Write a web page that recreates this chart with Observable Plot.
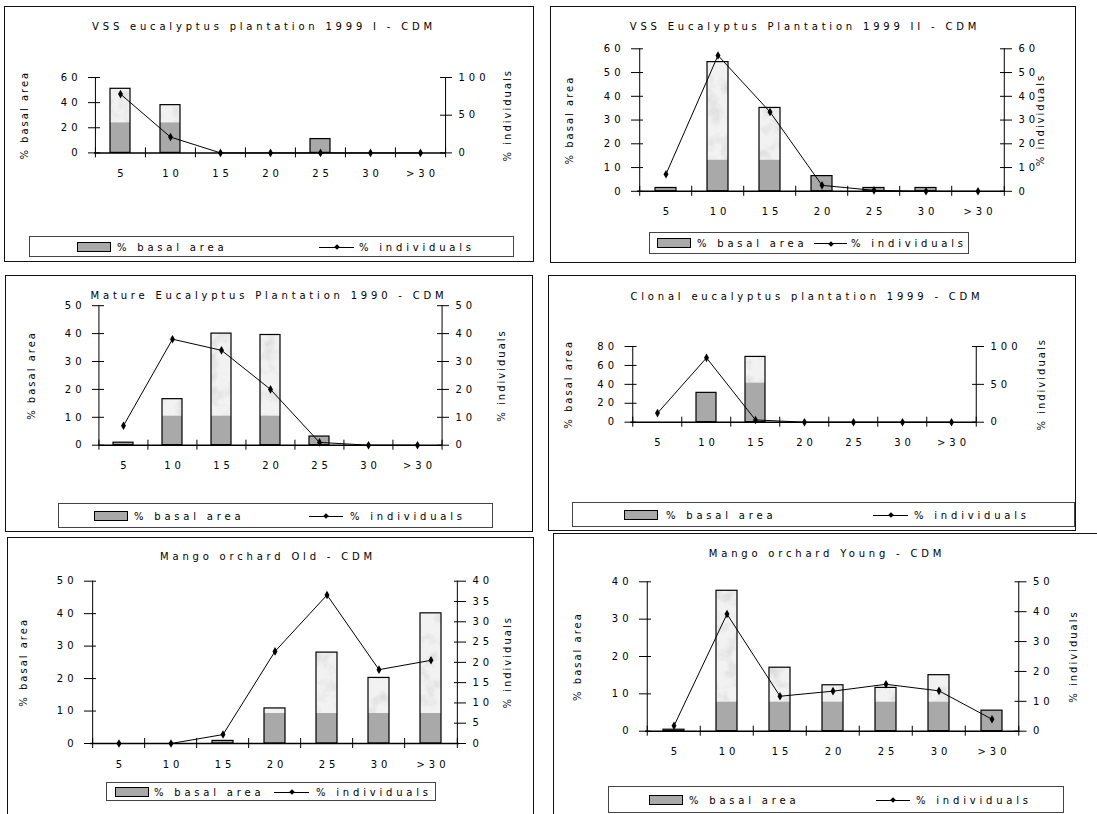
<!DOCTYPE html>
<html><head><meta charset="utf-8">
<script src="https://cdn.jsdelivr.net/npm/d3@7"></script>
<script src="https://cdn.jsdelivr.net/npm/@observablehq/plot@0.6"></script>
<style>
body{margin:0;background:#fff;}
#page{position:relative;width:1097px;height:814px;overflow:hidden;font-family:"DejaVu Sans",sans-serif;color:#000;background:#fff;}
.box{position:absolute;border:1.5px solid #111;box-sizing:border-box;}
.plot{position:absolute;}
.title{position:absolute;font-size:10px;letter-spacing:3.8px;white-space:pre;transform:translate(-50%,-50%);}
.legend{position:absolute;border:1px solid #444;box-sizing:border-box;background:#fff;}
.lg-sw{position:absolute;background:#a9a9a9;border:1.2px solid #000;box-sizing:border-box;height:10px;transform:translateY(-50%);}
.lg-tx{position:absolute;font-size:10px;letter-spacing:3.8px;white-space:pre;transform:translateY(-50%);}
.lg-ln{position:absolute;height:0;border-top:1px solid #000;}
.lg-dm{position:absolute;width:4px;height:4px;background:#000;transform:translate(-50%,-50%) rotate(45deg);}
</style></head>
<body><div id="page"></div>
<script>
const cats = ["5", "10", "15", "20", "25", "30", ">30"];
const titles = [
  "VSS eucalyptus plantation 1999 I - CDM",
  "VSS Eucalyptus Plantation 1999 II - CDM",
  "Mature Eucalyptus Plantation 1990 - CDM",
  "Clonal eucalyptus plantation 1999 - CDM",
  "Mango orchard Old - CDM",
  "Mango orchard Young - CDM"
];
const seriesBasal = "% basal area";
const seriesIndiv = "% individuals";

const basalVss1 = [51, 38, 0, 0, 11, 0, 0];
const indivVss1 = [78, 21, 0, 0, 0, 0, 0];
const basalVss2 = [1.4, 54.4, 35.1, 6.4, 1.4, 1.4, 0];
const indivVss2 = [7.2, 57.2, 33.4, 2.5, 0.4, 0, 0];
const basalMature = [0.9, 16.5, 40, 39.5, 3.1, 0, 0];
const indivMature = [7, 38, 34, 20, 1, 0, 0];
const basalClonal = [0, 31, 69, 0, 0, 0, 0];
const indivClonal = [12, 85, 3, 0, 0, 0, 0];
const basalMangoOld = [0, 0, 0.8, 10.8, 28, 20.2, 40.1];
const indivMangoOld = [0, 0, 2.2, 22.7, 36.6, 18.2, 20.5];
const basalMangoYoung = [0.4, 37.6, 17, 12.3, 11.6, 15, 5.5];
const indivMangoYoung = [1.8, 39.2, 11.7, 13.4, 15.7, 13.5, 4.0];

const leftTicksVss1 = [0, 20, 40, 60];
const rightTicksVss1 = [0, 50, 100];
const leftTicksVss2 = [0, 10, 20, 30, 40, 50, 60];
const rightTicksVss2 = [0, 10, 20, 30, 40, 50, 60];
const leftTicksMature = [0, 10, 20, 30, 40, 50];
const rightTicksMature = [0, 10, 20, 30, 40, 50];
const leftTicksClonal = [0, 20, 40, 60, 80];
const rightTicksClonal = [0, 50, 100];
const leftTicksMangoOld = [0, 10, 20, 30, 40, 50];
const rightTicksMangoOld = [0, 5, 10, 15, 20, 25, 30, 35, 40];
const leftTicksMangoYoung = [0, 10, 20, 30, 40];
const rightTicksMangoYoung = [0, 10, 20, 30, 40, 50];

// layout (page pixel coordinates)
const panels = [
  {title: titles[0], ba: basalVss1, ind: indivVss1, lt: leftTicksVss1, rt: rightTicksVss1,
   box: [4, 6, 534, 262], area: [94, 445, 77, 152.4], gray: 30, tc: [264, 26],
   lg: [29, 236, 514, 257], sw: [76, 110], t1: 116, ln: [318, 353], t2: 358, yl: [24, 507]},
  {title: titles[1], ba: basalVss2, ind: indivVss2, lt: leftTicksVss2, rt: rightTicksVss2,
   box: [550, 6, 1076, 263], area: [637, 1005, 48.3, 190.8], gray: 31, tc: [805, 26],
   lg: [649, 232, 969, 254], sw: [656, 690], t1: 696, ln: [813, 846], t2: 850, yl: [569, 1040]},
  {title: titles[2], ba: basalMature, ind: indivMature, lt: leftTicksMature, rt: rightTicksMature,
   box: [5, 275, 533, 532], area: [98, 442, 305.2, 444.7], gray: 29, tc: [269, 295],
   lg: [58, 503, 493, 528], sw: [93, 127], t1: 133, ln: [308, 342], t2: 349, yl: [31, 501]},
  {title: titles[3], ba: basalClonal, ind: indivClonal, lt: leftTicksClonal, rt: rightTicksClonal,
   box: [548, 275, 1076, 531], area: [630.5, 977, 346, 421.7], gray: 39, tc: [807, 296],
   lg: [572, 502, 1075, 527], sw: [623, 657], t1: 665, ln: [872, 907], t2: 913, yl: [568, 1041]},
  {title: titles[4], ba: basalMangoOld, ind: indivMangoOld, lt: leftTicksMangoOld, rt: rightTicksMangoOld,
   box: [7, 537, 534, 818], area: [90, 459, 580.7, 743], gray: 30, tc: [268, 556],
   lg: [106, 782, 436, 801], sw: [114, 148], t1: 153, ln: [273, 308], t2: 315, yl: [23, 507]},
  {title: titles[5], ba: basalMangoYoung, ind: indivMangoYoung, lt: leftTicksMangoYoung, rt: rightTicksMangoYoung,
   box: [553, 533, 1110, 818], area: [645, 1019.5, 581.3, 730.7], gray: 29, tc: [827, 553],
   lg: [608, 786, 1064, 813], sw: [648, 682], t1: 688, ln: [875, 909], t2: 915, yl: [577, 1073]}
];

const page = document.getElementById("page");
const NS = "http://www.w3.org/2000/svg";
const FONT = '"DejaVu Sans", sans-serif';

function place(el, L, T) {
  el.style.left = L + "px"; el.style.top = T + "px";
  page.appendChild(el);
}

panels.forEach((p, i) => {
  const [L, T, R, B] = p.box;
  const W = R - L, H = B - T;
  const [xl, xr, yt, y0] = p.area;
  const ml = xl - L, mr = R - xr, mt = yt - T, mb = B - y0;
  const step = (xr - xl) / cats.length;
  const plotH = y0 - yt;
  const rows = cats.map((c, j) => ({cat: c, ba: p.ba[j], ind: p.ind[j]}));

  const bx = document.createElement("div");
  bx.className = "box";
  bx.style.width = W + "px"; bx.style.height = H + "px";
  place(bx, L, T);

  const common = {
    width: W, height: H, marginLeft: ml, marginRight: mr, marginTop: mt, marginBottom: mb,
    style: {background: "transparent", fontFamily: FONT, fontSize: "10px", letterSpacing: "4px", overflow: "visible", color: "#000"}
  };
  const xScale = {type: "band", domain: cats, paddingInner: 0.6, paddingOuter: 0.3};

  const A = Plot.plot({
    ...common,
    x: xScale,
    y: {domain: [0, p.lt[p.lt.length - 1]]},
    marks: [
      Plot.barY(rows, {x: "cat", y: "ba", fill: `url(#tex${i})`, stroke: "#000", strokeWidth: 1.2}),
      Plot.ruleY([0], {stroke: "#000", strokeWidth: 1.5}),
      Plot.ruleX([cats[0]], {dx: -step / 2, stroke: "#000"}),
      Plot.ruleX(cats, {dx: -step / 2, insetTop: plotH - 5, insetBottom: -5, stroke: "#000"}),
      Plot.ruleX([cats[cats.length - 1]], {dx: step / 2, insetTop: plotH - 5, insetBottom: -5, stroke: "#000"}),
      Plot.axisY(p.lt, {anchor: "left", tickSize: 12, dx: 6, tickPadding: 7, label: null, stroke: "#000"}),
      Plot.axisX({tickSize: 0, tickPadding: 17, label: null, dx: 2}),
      Plot.text([seriesBasal], {text: d => d, frameAnchor: "left", textAnchor: "middle", rotate: -90, dx: p.yl[0] - xl})
    ]
  });
  const defs = document.createElementNS(NS, "defs");
  defs.innerHTML = `
    <filter id="mf${i}" x="0" y="0" width="100%" height="100%">
      <feTurbulence type="fractalNoise" baseFrequency="0.07" numOctaves="3" seed="${i + 3}"/>
      <feColorMatrix type="matrix" values="0 0 0 0 0.7  0 0 0 0 0.7  0 0 0 0 0.7  2.2 0 0 0 -1.0"/>
    </filter>
    <pattern id="tex${i}" patternUnits="userSpaceOnUse" x="0" y="0" width="${W}" height="${H}">
      <rect width="${W}" height="${H}" fill="#f2f2f2"/>
      <rect width="${W}" height="${H}" filter="url(#mf${i})"/>
      <rect y="${H - mb - p.gray}" width="${W}" height="${p.gray + 10}" fill="#a9a9a9"/>
    </pattern>`;
  A.insertBefore(defs, A.firstChild);
  A.querySelectorAll('g[aria-label="text"] text').forEach(t => t.style.letterSpacing = "2px");
  A.classList.add("plot");
  place(A, L, T);

  const Bp = Plot.plot({
    ...common,
    x: {...xScale, axis: null},
    y: {domain: [0, p.rt[p.rt.length - 1]]},
    marks: [
      Plot.ruleX([cats[cats.length - 1]], {dx: step / 2, stroke: "#000"}),
      Plot.line(rows, {x: "cat", y: "ind", stroke: "#000", strokeWidth: 1}),
      Plot.dot(rows, {x: "cat", y: "ind", symbol: "diamond", r: 2.6, fill: "#000", stroke: "none"}),
      Plot.axisY(p.rt, {anchor: "right", tickSize: 12, dx: -6, tickPadding: 7, label: null, stroke: "#000"}),
      Plot.text([seriesIndiv], {text: d => d, frameAnchor: "right", textAnchor: "middle", rotate: -90, dx: p.yl[1] - xr})
    ]
  });
  Bp.querySelectorAll('g[aria-label="text"] text').forEach(t => t.style.letterSpacing = "2px");
  Bp.classList.add("plot");
  place(Bp, L, T);

  const tt = document.createElement("div");
  tt.className = "title";
  tt.textContent = p.title;
  place(tt, p.tc[0], p.tc[1]);

  const [gL, gT, gR, gB] = p.lg;
  const lg = document.createElement("div");
  lg.className = "legend";
  lg.style.width = (gR - gL) + "px"; lg.style.height = (gB - gT) + "px";
  const mid = (gB - gT) / 2 - 1;
  const sw = document.createElement("div");
  sw.className = "lg-sw";
  sw.style.left = (p.sw[0] - gL) + "px"; sw.style.top = mid + "px"; sw.style.width = (p.sw[1] - p.sw[0]) + "px";
  lg.appendChild(sw);
  const t1 = document.createElement("div");
  t1.className = "lg-tx"; t1.textContent = seriesBasal;
  t1.style.left = (p.t1 - gL) + "px"; t1.style.top = mid + "px";
  lg.appendChild(t1);
  const ln = document.createElement("div");
  ln.className = "lg-ln";
  ln.style.left = (p.ln[0] - gL) + "px"; ln.style.top = mid + "px"; ln.style.width = (p.ln[1] - p.ln[0]) + "px";
  lg.appendChild(ln);
  const dm = document.createElement("div");
  dm.className = "lg-dm";
  dm.style.left = ((p.ln[0] + p.ln[1]) / 2 - gL) + "px"; dm.style.top = (mid + 0.5) + "px";
  lg.appendChild(dm);
  const t2 = document.createElement("div");
  t2.className = "lg-tx"; t2.textContent = seriesIndiv;
  t2.style.left = (p.t2 - gL) + "px"; t2.style.top = mid + "px";
  lg.appendChild(t2);
  place(lg, gL, gT);
});
</script>
</body></html>
